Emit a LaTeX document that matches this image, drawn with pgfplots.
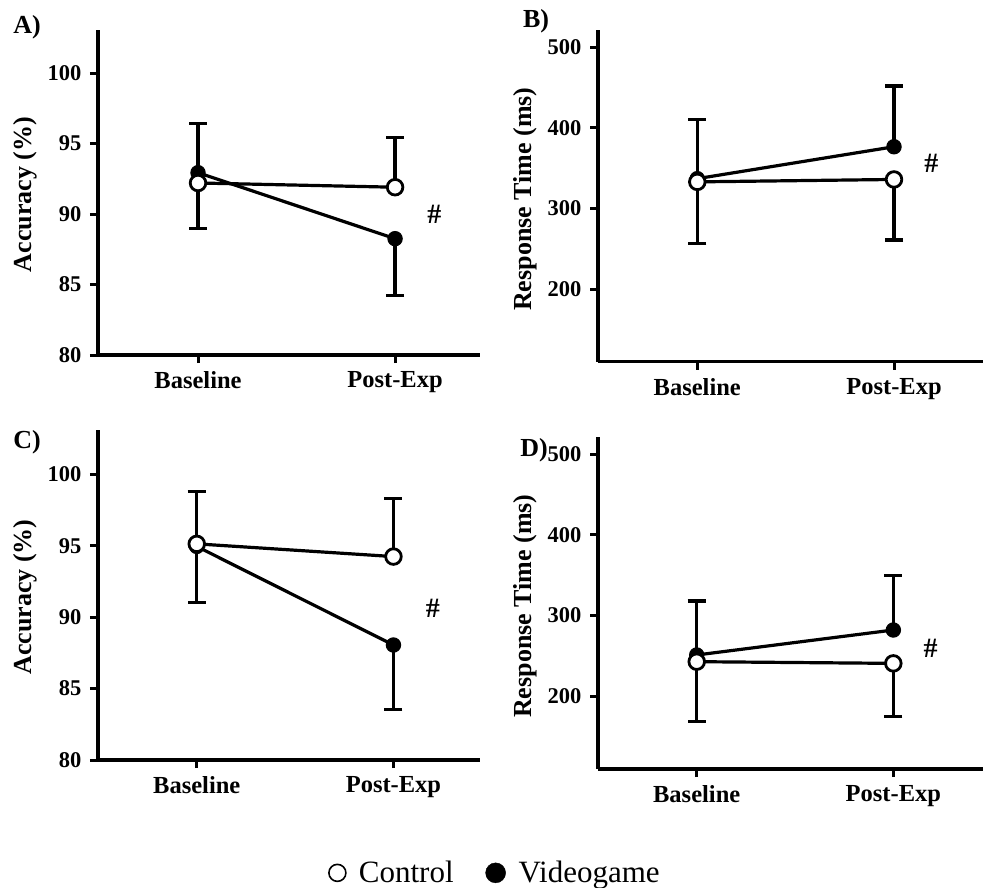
\documentclass[border=0pt]{standalone}
\usepackage{pgfplots}
\pgfplotsset{compat=1.18}
\usepackage{fontspec}
\setmainfont{Liberation Serif}

\pgfplotsset{
  panel/.style={
    scale only axis,
    anchor=south west,
    clip=false,
    axis x line=bottom,
    axis y line=left,
    axis line style={-, line width=3.2pt},
    every tick/.style={black, line width=3pt},
    tick align=outside,
    major tick length=8pt,
    xtick={1,2},
    xticklabels={Baseline,Post-Exp},
    x tick label style={font=\bfseries\fontsize{24.5}{24.5}\selectfont, yshift=-5pt},
    y tick label style={font=\bfseries\fontsize{22.5}{22.5}\selectfont, xshift=-5pt},
    /pgf/number format/assume math mode=true,
    ylabel style={font=\bfseries\fontsize{26}{26}\selectfont, anchor=center},
  },
  ctl/.style={black, line width=3.2pt, mark=*, mark size=7.8pt,
    mark options={fill=white, draw=black, line width=2.8pt},
    error bars/y dir=#1, error bars/y explicit,
    error bars/error bar style={line width=3.2pt},
    error bars/error mark options={rotate=90, mark size=9pt, line width=3.2pt}},
  vg/.style={black, line width=3.2pt, mark=*, mark size=7.2pt,
    mark options={fill=black, draw=black, line width=1pt},
    error bars/y dir=#1, error bars/y explicit,
    error bars/error bar style={line width=3.2pt},
    error bars/error mark options={rotate=90, mark size=9pt, line width=3.2pt}},
}

\newcommand{\hashmark}{\bfseries\fontsize{28}{28}\selectfont\#}

\begin{document}
\begin{tikzpicture}
\useasboundingbox (0pt,0pt) rectangle (985pt,-888pt);

% A) accuracy
\begin{axis}[panel, at={(98pt,-355pt)}, width=382pt, height=325pt,
  xmin=0.4924, xmax=2.431, ymin=80, ymax=103.05,
  ytick={80,85,90,95,100},
  ylabel={Accuracy (\%)},
  ylabel style={at={(axis description cs:-0.191,0.494)}}]
\addplot+[vg=minus] coordinates {(1,92.93) +- (0,3.93) (2,88.25) +- (0,4.05)};
\addplot+[ctl=plus] coordinates {(1,92.2) +- (0,4.2) (2,91.9) +- (0,3.5)};
\node at (axis cs:2.2,90) {\hashmark};
\end{axis}

% B) response time
\begin{axis}[panel, at={(598pt,-361.7pt)}, width=385pt, height=331.7pt,
  xmin=0.4952, xmax=2.4525, ymin=109.8, ymax=521.5,
  ytick={200,300,400,500},
  ylabel={Response Time (ms)},
  ylabel style={at={(axis description cs:-0.189,0.49)}}]
\addplot+[vg=plus] coordinates {(1,337) +- (0,73.5) (2,376.6) +- (0,75.4)};
\addplot+[ctl=minus] coordinates {(1,333) +- (0,76.3) (2,336) +- (0,75.2)};
\node at (axis cs:2.19,356) {\hashmark};
\end{axis}

% C) accuracy
\begin{axis}[panel, at={(98pt,-760pt)}, width=382pt, height=330pt,
  xmin=0.498, xmax=2.44, ymin=80, ymax=103.1,
  ytick={80,85,90,95,100},
  ylabel={Accuracy (\%)},
  ylabel style={at={(axis description cs:-0.191,0.494)}},
  legend style={at={(axis description cs:1.04,-0.342)}, anchor=center,
    draw=none, fill=none, legend columns=2,
    font=\fontsize{31}{31}\selectfont,
    /tikz/every odd column/.append style={column sep=11pt},
    /tikz/every even column/.append style={column sep=30pt}}]
\addplot+[vg=minus, forget plot] coordinates {(1,94.95) +- (0,3.95) (2,88.05) +- (0,4.5)};
\addplot+[ctl=plus, forget plot] coordinates {(1,95.13) +- (0,3.67) (2,94.24) +- (0,4.06)};
\node at (axis cs:2.2,90.6) {\hashmark};
\addlegendimage{only marks, mark=o, mark size=8.5pt, line width=1.6pt, black}
\addlegendentry{Control}
\addlegendimage{only marks, mark=*, mark size=10pt, black}
\addlegendentry{Videogame}
\end{axis}

% D) response time
\begin{axis}[panel, at={(598pt,-769pt)}, width=385pt, height=332.3pt,
  xmin=0.498, xmax=2.456, ymin=109.4, ymax=521.8,
  ytick={200,300,400,500},
  ylabel={Response Time (ms)},
  ylabel style={at={(axis description cs:-0.189,0.49)}}]
\addplot+[vg=plus] coordinates {(1,250.9) +- (0,67) (2,281.9) +- (0,67.4)};
\addplot+[ctl=minus] coordinates {(1,242.6) +- (0,74.6) (2,240.5) +- (0,66.2)};
\node at (axis cs:2.19,259) {\hashmark};
\end{axis}

\node[font=\bfseries\fontsize{26}{26}\selectfont] at (27pt,-27pt) {A)};
\node[font=\bfseries\fontsize{26}{26}\selectfont] at (536pt,-21pt) {B)};
\node[font=\bfseries\fontsize{26}{26}\selectfont] at (27pt,-442pt) {C)};
\node[font=\bfseries\fontsize{26}{26}\selectfont] at (534pt,-450pt) {D)};
\end{tikzpicture}
\end{document}
